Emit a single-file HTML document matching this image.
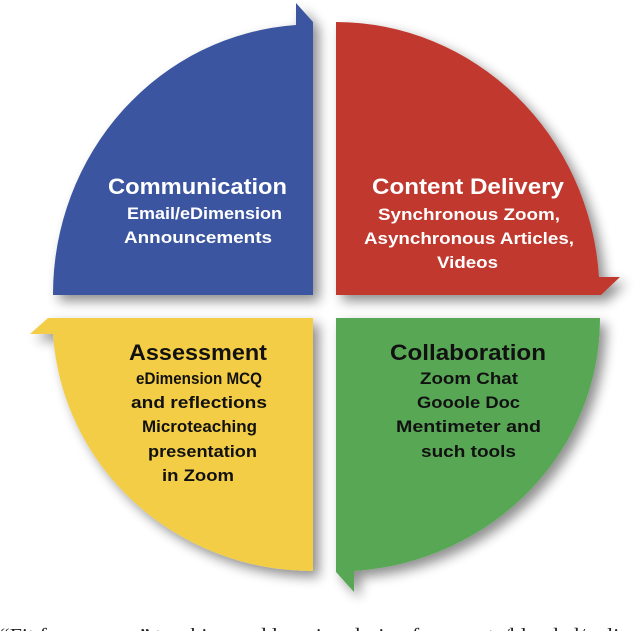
<!DOCTYPE html>
<html><head><meta charset="utf-8"><style>
html,body{margin:0;padding:0;background:#fff;width:640px;height:631px;overflow:hidden}
svg{display:block}
text{font-family:"Liberation Sans",sans-serif;fill:#fff;font-weight:bold}
.t{font-size:22px}.b{font-size:17px}
</style></head><body>
<svg width="640" height="631" viewBox="0 0 640 631">
<defs>
<filter id="sh" x="-20%" y="-20%" width="140%" height="140%">
<feGaussianBlur in="SourceAlpha" stdDeviation="6"/>
<feOffset dx="6" dy="6"/>
<feComponentTransfer><feFuncA type="linear" slope="0.45"/></feComponentTransfer>
<feMerge><feMergeNode/><feMergeNode in="SourceGraphic"/></feMerge>
</filter>
</defs>
<g filter="url(#sh)">
<path d="M313,295 L53,295 A260,270 0 0 1 296,25 L296,3 L313,22 Z" fill="#3a55a0"/>
<path d="M336,295 L336,22 A264,273 0 0 1 599,277 L620,277 L601,295 Z" fill="#c0392f"/>
<path d="M313,318 L313,571 A260,253 0 0 1 53,334 L30,334 L48,318 Z" fill="#f3cd45"/>
<path d="M336,318 L600,318 A264,253 0 0 1 354,571 L354,592 L336,572 Z" fill="#58a755"/>
</g>
<text class="t" x="108" y="194" textLength="179" lengthAdjust="spacingAndGlyphs">Communication</text>
<text class="b" x="127" y="219" textLength="155" lengthAdjust="spacingAndGlyphs">Email/eDimension</text>
<text class="b" x="124" y="243" textLength="148" lengthAdjust="spacingAndGlyphs">Announcements</text>

<text class="t" x="372" y="194" textLength="192" lengthAdjust="spacingAndGlyphs">Content Delivery</text>
<text class="b" x="378" y="220" textLength="182" lengthAdjust="spacingAndGlyphs">Synchronous Zoom,</text>
<text class="b" x="364" y="244" textLength="210" lengthAdjust="spacingAndGlyphs">Asynchronous Articles,</text>
<text class="b" x="437" y="268" textLength="61" lengthAdjust="spacingAndGlyphs">Videos</text>

<text class="t" x="129" y="360" textLength="138" lengthAdjust="spacingAndGlyphs" style="fill:#111">Assessment</text>
<text class="b" x="136" y="384" textLength="126" lengthAdjust="spacingAndGlyphs" style="fill:#111">eDimension MCQ</text>
<text class="b" x="131" y="408" textLength="136" lengthAdjust="spacingAndGlyphs" style="fill:#111">and reflections</text>
<text class="b" x="142" y="432" textLength="115" lengthAdjust="spacingAndGlyphs" style="fill:#111">Microteaching</text>
<text class="b" x="148" y="457" textLength="109" lengthAdjust="spacingAndGlyphs" style="fill:#111">presentation</text>
<text class="b" x="162" y="481" textLength="72" lengthAdjust="spacingAndGlyphs" style="fill:#111">in Zoom</text>

<text class="t" x="390" y="360" textLength="156" lengthAdjust="spacingAndGlyphs" style="fill:#111">Collaboration</text>
<text class="b" x="420" y="384" textLength="98" lengthAdjust="spacingAndGlyphs" style="fill:#111">Zoom Chat</text>
<text class="b" x="417" y="408" textLength="103" lengthAdjust="spacingAndGlyphs" style="fill:#111">Gooole Doc</text>
<text class="b" x="396" y="432" textLength="145" lengthAdjust="spacingAndGlyphs" style="fill:#111">Mentimeter and</text>
<text class="b" x="421" y="457" textLength="95" lengthAdjust="spacingAndGlyphs" style="fill:#111">such tools</text>

<text x="0" y="642" style="font-family:'Liberation Serif',serif;font-weight:normal;fill:#222;font-size:20px" textLength="640" lengthAdjust="spacingAndGlyphs">“Fit for purpose” teaching and learning design for remote/blended/online</text>
</svg>
</body></html>
